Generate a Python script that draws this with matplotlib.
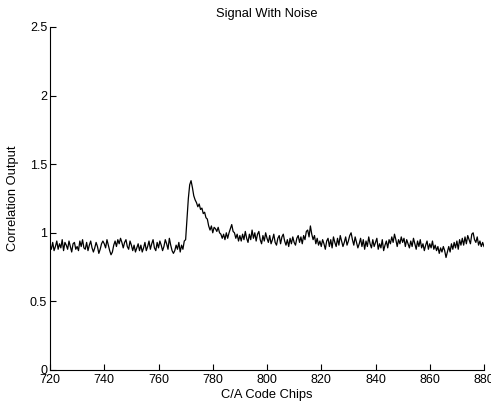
import numpy as np
import matplotlib
matplotlib.use("Agg")
import matplotlib.pyplot as plt

plt.rcParams['font.family'] = ['Liberation Sans', 'DejaVu Sans']

title = "Signal With Noise"
xlabel = "C/A Code Chips"
ylabel = "Correlation Output"
x_start = 720
x_step = 0.5
xticks = [720, 740, 760, 780, 800, 820, 840, 860, 880]
yticks = [0, 0.5, 1, 1.5, 2, 2.5]
ytick_labels = ["0", "0.5", "1", "1.5", "2", "2.5"]

corr_720_740 = [0.91,0.88,0.93,0.87,0.90,0.94,0.88,0.92,0.89,0.95,0.87,0.93,0.91,0.88,0.94,0.90,0.86,0.92,0.93,0.88,
                0.90,0.87,0.94,0.90,0.95,0.89,0.88,0.93,0.87,0.91,0.94,0.89,0.86,0.89,0.93,0.90,0.85,0.88,0.92,0.94]
corr_740_760 = [0.92,0.89,0.95,0.91,0.87,0.84,0.86,0.91,0.94,0.90,0.95,0.92,0.96,0.93,0.89,0.93,0.95,0.90,0.88,0.94,
                0.91,0.87,0.91,0.86,0.89,0.92,0.87,0.91,0.86,0.89,0.93,0.87,0.90,0.94,0.88,0.92,0.95,0.89,0.87,0.93]
corr_760_780 = [0.89,0.94,0.91,0.87,0.90,0.95,0.92,0.88,0.96,0.91,0.87,0.85,0.87,0.91,0.88,0.93,0.86,0.91,0.88,0.94,
                0.95,1.10,1.25,1.35,1.38,1.33,1.27,1.24,1.22,1.19,1.21,1.17,1.18,1.14,1.15,1.11,1.10,1.05,1.02,1.05]
corr_780_800 = [1.00,1.04,1.03,1.01,1.04,1.00,0.99,0.96,0.99,0.95,1.00,0.96,1.00,1.03,1.06,1.01,1.00,0.96,0.99,0.94,
                0.98,0.94,0.99,0.95,1.01,0.96,0.93,0.99,0.95,1.02,0.96,1.00,0.94,0.99,1.01,0.95,0.92,0.98,0.94,1.00]
corr_800_820 = [0.96,0.93,0.98,0.92,0.95,0.99,0.93,0.91,0.96,0.98,0.92,0.97,0.99,0.94,0.91,0.95,0.90,0.96,0.92,0.97,
                0.93,0.91,0.96,0.98,0.93,0.97,0.92,0.98,0.95,1.01,1.02,0.97,1.05,0.99,0.95,0.98,0.92,0.96,0.91,0.94]
corr_820_840 = [0.90,0.95,0.92,0.88,0.94,0.96,0.90,0.95,0.89,0.97,0.93,0.90,0.96,0.91,0.98,0.94,0.90,0.93,0.97,0.91,
                0.94,0.98,1.00,0.95,0.91,0.97,0.93,0.89,0.92,0.96,0.90,0.95,0.88,0.94,0.90,0.97,0.92,0.89,0.95,0.90]
corr_840_860 = [0.93,0.96,0.88,0.92,0.89,0.95,0.87,0.91,0.94,0.89,0.95,0.92,0.97,0.93,0.99,0.95,0.90,0.95,0.92,0.97,
                0.93,0.96,0.90,0.95,0.92,0.89,0.94,0.90,0.96,0.92,0.88,0.94,0.90,0.95,0.89,0.92,0.87,0.91,0.94,0.88]
corr_860_880 = [0.92,0.89,0.94,0.88,0.91,0.87,0.90,0.85,0.89,0.86,0.90,0.87,0.82,0.86,0.90,0.86,0.92,0.88,0.93,0.89,
                0.94,0.88,0.95,0.91,0.96,0.91,0.97,0.92,0.98,0.95,0.92,0.99,1.00,0.95,0.93,0.97,0.91,0.94,0.90,0.93,0.90]

corr = (corr_720_740 + corr_740_760 + corr_760_780 + corr_780_800 +
        corr_800_820 + corr_820_840 + corr_840_860 + corr_860_880)
chips = x_start + x_step * np.arange(len(corr))

fig = plt.figure(figsize=(4.91, 4.07), dpi=100)
ax = fig.add_axes([50/491, 37/407, 434/491, 343/407])
ax.plot(chips, corr, color='black', linewidth=0.9)
ax.set_xlim(720, 880)
ax.set_ylim(0, 2.5)
ax.set_xticks(xticks)
ax.set_yticks(yticks)
ax.set_yticklabels(ytick_labels)
for s in ['top', 'right']:
    ax.spines[s].set_visible(False)
ax.spines['left'].set_linewidth(0.8)
ax.spines['bottom'].set_linewidth(0.8)
ax.tick_params(direction='in', length=4, width=0.8, labelsize=9, pad=2)
ax.tick_params(axis='x', pad=3)
ax.set_title(title, fontsize=9.3, pad=7)
ax.set_xlabel(xlabel, fontsize=9.3, labelpad=2)
ax.set_ylabel(ylabel, fontsize=9.3, labelpad=8)
fig.savefig("out.png", dpi=100)
